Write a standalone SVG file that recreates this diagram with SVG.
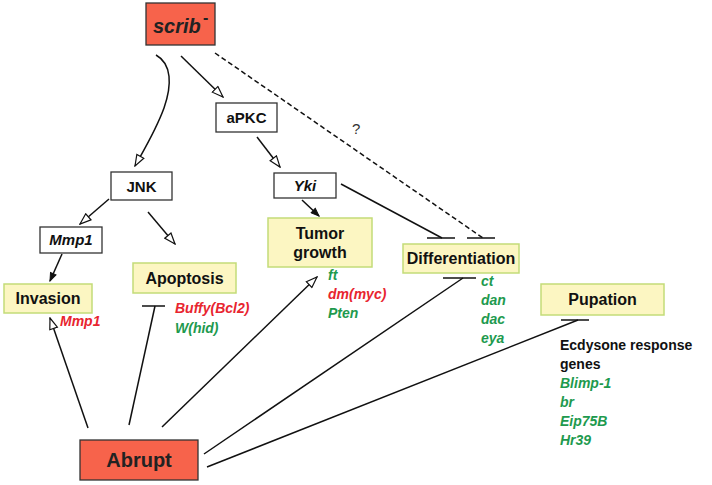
<svg xmlns="http://www.w3.org/2000/svg" width="712" height="485" viewBox="0 0 712 485">
<defs>
<style>
.box{fill:#ffffff;stroke:#333;stroke-width:1.3}
.red{fill:#f7634b;stroke:#333;stroke-width:1.3}
.yel{fill:#fcf6c2;stroke:#c3dc78;stroke-width:1.5}
.lbl{font-family:"Liberation Sans",Arial,sans-serif;font-weight:bold;font-size:15px;fill:#111;text-anchor:middle}
.big{font-size:16px}
.it{font-style:italic}
.gene{font-family:"Liberation Sans",Arial,sans-serif;font-weight:bold;font-style:italic;font-size:14px}
.g{fill:#1e9a4e}
.r{fill:#e8252f}
.ln{stroke:#111;stroke-width:1.5;fill:none}
.tb{stroke:#111;stroke-width:1.5}
</style>
<marker id="oa" markerWidth="13" markerHeight="10" refX="12" refY="5" orient="auto" markerUnits="userSpaceOnUse">
<path d="M1,1 L12,5 L1,9 z" fill="#fff" stroke="#111" stroke-width="1.2"/>
</marker>
<marker id="fa" markerWidth="10" markerHeight="8" refX="9" refY="4" orient="auto" markerUnits="userSpaceOnUse">
<path d="M1,1 L9,4 L1,7 z" fill="#111" stroke="#111" stroke-width="1"/>
</marker>
</defs>
<rect width="712" height="485" fill="#ffffff"/>
<g id="connectors">
<path class="ln" d="M156,55 C172,64 172,85 164,108 C156,130 145,148 135,166" marker-end="url(#oa)"/>
<line class="ln" x1="181" y1="56" x2="223" y2="97" marker-end="url(#oa)"/>
<line class="ln" x1="215" y1="53" x2="483" y2="238" stroke-dasharray="5,3"/>
<line class="tb" x1="467" y1="238" x2="495" y2="238"/>
<line class="ln" x1="257" y1="137" x2="280" y2="167" marker-end="url(#oa)"/>
<line class="ln" x1="341" y1="184" x2="442" y2="238"/>
<line class="tb" x1="427" y1="238" x2="455" y2="238"/>
<line class="ln" x1="302" y1="200" x2="319" y2="216" marker-end="url(#fa)"/>
<line class="ln" x1="109" y1="199" x2="80" y2="224" marker-end="url(#oa)"/>
<line class="ln" x1="148" y1="212" x2="175" y2="244" marker-end="url(#oa)"/>
<line class="ln" x1="62" y1="254" x2="50" y2="281" marker-end="url(#fa)"/>
<line class="ln" x1="88" y1="428" x2="50" y2="318" marker-end="url(#oa)"/>
<line class="ln" x1="129" y1="425" x2="155" y2="306"/>
<line class="tb" x1="142" y1="306" x2="165" y2="306"/>
<line class="ln" x1="162" y1="427" x2="317" y2="277" marker-end="url(#oa)"/>
<line class="ln" x1="204" y1="454" x2="463" y2="278"/>
<line class="tb" x1="443" y1="278" x2="476" y2="278"/>
<line class="ln" x1="207" y1="467" x2="578" y2="320"/>
<line class="tb" x1="561" y1="320" x2="589" y2="320"/>
<text x="352" y="134" font-family="Liberation Sans,Arial,sans-serif" font-size="15" fill="#333">?</text>
</g>
<g id="scrib">
<rect class="red" x="146" y="3" width="69" height="42"/>
<text x="153" y="33" font-family="Liberation Sans,Arial,sans-serif" font-weight="bold" font-style="italic" font-size="20" fill="#222">scrib</text>
<text x="203" y="23" font-family="Liberation Sans,Arial,sans-serif" font-weight="bold" font-size="16" fill="#222">-</text>
</g>
<g id="aPKC">
<rect class="box" x="216" y="103" width="61" height="29"/>
<text class="lbl" x="246.5" y="123">aPKC</text>
</g>
<g id="JNK">
<rect class="box" x="111" y="172" width="61" height="28"/>
<text class="lbl" x="141.5" y="191.5">JNK</text>
</g>
<g id="Yki">
<rect class="box" x="274" y="173" width="62" height="25"/>
<text class="lbl it" x="305" y="191">Yki</text>
</g>
<g id="Mmp1">
<rect class="box" x="40" y="227" width="62" height="26"/>
<text class="lbl it" x="71" y="245">Mmp1</text>
</g>
<g id="Invasion">
<rect class="yel" x="4" y="284" width="88" height="29"/>
<text class="lbl big" x="48" y="304">Invasion</text>
<text class="gene r" x="60" y="326">Mmp1</text>
</g>
<g id="Apoptosis">
<rect class="yel" x="133" y="263" width="103" height="30"/>
<text class="lbl big" x="184.5" y="284">Apoptosis</text>
<text class="gene r" x="175" y="313">Buffy(Bcl2)</text>
<text class="gene g" x="175" y="333">W(hid)</text>
</g>
<g id="TumorGrowth">
<rect class="yel" x="268" y="218" width="104" height="49"/>
<text class="lbl big" x="320" y="239">Tumor</text>
<text class="lbl big" x="320" y="258">growth</text>
<text class="gene g" x="328" y="280">ft</text>
<text class="gene r" x="328" y="299">dm(myc)</text>
<text class="gene g" x="328" y="318">Pten</text>
</g>
<g id="Differentiation">
<rect class="yel" x="403" y="244" width="116" height="29"/>
<text class="lbl big" x="461" y="264">Differentiation</text>
<text class="gene g" x="481" y="286">ct</text>
<text class="gene g" x="481" y="305">dan</text>
<text class="gene g" x="481" y="324">dac</text>
<text class="gene g" x="481" y="343">eya</text>
</g>
<g id="Pupation">
<rect class="yel" x="541" y="284" width="123" height="31"/>
<text class="lbl big" x="602.5" y="305">Pupation</text>
<text x="560" y="350" font-family="Liberation Sans,Arial,sans-serif" font-weight="bold" font-size="14" fill="#111">Ecdysone response</text>
<text x="560" y="369" font-family="Liberation Sans,Arial,sans-serif" font-weight="bold" font-size="14" fill="#111">genes</text>
<text class="gene g" x="560" y="388">Blimp-1</text>
<text class="gene g" x="560" y="407">br</text>
<text class="gene g" x="560" y="426">Eip75B</text>
<text class="gene g" x="560" y="445">Hr39</text>
</g>
<g id="Abrupt">
<rect class="red" x="80" y="440" width="118" height="40"/>
<text x="139" y="467" font-family="Liberation Sans,Arial,sans-serif" font-weight="bold" font-size="20" fill="#222" text-anchor="middle">Abrupt</text>
</g>
</svg>
